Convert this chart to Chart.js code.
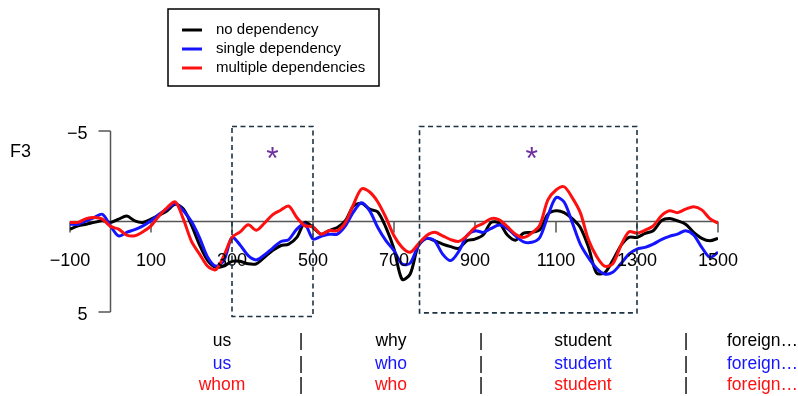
<!DOCTYPE html>
<html lang="en">
<head>
    <meta charset="UTF-8">
    <title>F3 ERP</title>
    <script src="https://cdn.jsdelivr.net/npm/chart.js"></script>
    <style>
        body { margin: 0; background: #fff; }
        #wrap { width: 798px; height: 396px; }
    </style>
</head>
<body>
    <div id="wrap"><canvas id="erpChart" width="798" height="396"></canvas></div>

    <script>
        // time points (ms)
        const times = [-100, -80, -60, -40, -20, 0, 20, 40, 60, 80, 100, 120, 140, 160, 180, 200,
            220, 240, 260, 280, 300, 320, 340, 360, 380, 400, 420, 440, 460, 480, 500, 520, 540,
            560, 580, 600, 620, 640, 660, 680, 700, 720, 740, 760, 780, 800, 820, 840, 860, 880,
            900, 920, 940, 960, 980, 1000, 1020, 1040, 1060, 1080, 1100, 1120, 1140, 1160, 1180,
            1200, 1220, 1240, 1260, 1280, 1300, 1320, 1340, 1360, 1380, 1400, 1420, 1440, 1460,
            1480, 1500];

        // amplitude (µV), negative up
        const noDep = [0.42, 0.24, 0.15, 0.05, -0.04, 0.05, -0.13, -0.3, -0.04, 0.05, -0.13, -0.35,
            -0.6, -0.95, -0.7, 0.2, 1.3, 2.16, 2.53, 2.47, 2.2, 2.2, 2.34, 2.34, 1.98, 1.61, 1.34,
            1.25, 0.88, 0.05, 0.33, 0.7, 0.5, 0.33, -0.04, -0.86, -1.0, -0.68, -0.53, 0.33, 1.52,
            3.2, 2.9, 1.34, 0.93, 1.06, 1.25, 1.39, 1.48, 1.06, 0.97, 0.75, 0.05, 0.09, 0.75, 1.03,
            0.64, 0.6, 0.46, -0.4, -0.59, -0.49, -0.16, 0.33, 1.4, 2.84, 2.84, 2.16, 1.34, 0.88,
            0.88, 0.66, 0.51, -0.04, -0.16, -0.04, 0.15, 0.6, 0.93, 1.06, 0.93];
        const singleDep = [0.15, 0.15, -0.04, -0.22, -0.4, 0.24, 0.8, 0.6, 0.45, 0.24, -0.04, -0.4,
            -0.7, -1.0, -0.6, 0.0, 0.9, 1.98, 2.47, 2.16, 0.88, 1.3, 1.89, 2.12, 1.85, 1.48, 1.12,
            1.0, 0.42, 0.15, 0.97, 0.82, 0.7, 0.7, 0.24, -0.53, -1.04, -0.59, 0.33, 1.06, 1.61,
            2.35, 2.3, 1.34, 0.93, 1.06, 1.8, 2.16, 1.65, 0.79, 0.51, 0.6, 0.38, 0.2, 0.38, 0.79,
            1.12, 1.15, 0.88, -0.31, -1.32, -1.08, 0.05, 1.25, 2.0, 2.58, 2.9, 2.8, 2.34, 1.8,
            1.52, 1.43, 1.25, 1.0, 0.82, 0.7, 0.51, 0.75, 1.43, 1.98, 1.7];
        const multiDep = [0.05, 0.05, -0.16, -0.22, -0.13, 0.27, 0.42, 0.75, 0.79, 0.57, 0.24, -0.31,
            -0.77, -1.08, -0.13, 1.1, 1.8, 2.47, 2.66, 1.89, 0.88, 0.57, 0.18, 0.48, 0.09, -0.37,
            -0.62, -0.85, -0.22, 0.24, 0.29, 0.7, 0.5, 0.51, 0.05, -0.95, -1.8, -1.63, -1.08, -0.22,
            0.79, 1.43, 1.7, 1.25, 0.79, 0.6, 0.79, 1.0, 1.1, 0.79, 0.33, 0.11, -0.16, -0.09, 0.29,
            0.7, 0.88, 0.64, 0.2, -1.19, -1.74, -1.92, -1.32, -0.49, 1.0, 1.92, 2.47, 2.34, 1.34,
            0.57, 0.64, 0.48, 0.24, -0.31, -0.59, -0.49, -0.68, -0.82, -0.64, -0.16, 0.09];

        const seriesNames = ['no dependency', 'single dependency', 'multiple dependencies'];
        const seriesColors = ['#000000', '#1414ff', '#ff1010'];

        const xTicks = [-100, 100, 300, 500, 700, 900, 1100, 1300, 1500];
        const yTicks = [-5, 5];
        // significant windows: [start ms, end ms, top µV, bottom µV]
        const windows = [[300, 500, -5.25, 5.25], [763, 1300, -5.25, 5.05]];
        const starTimes = [400, 1040];
        const starLevel = -3.9;

        const wordRows = [
            ['us', 'why', 'student', 'foreign…'],
            ['us', 'who', 'student', 'foreign…'],
            ['whom', 'who', 'student', 'foreign…']
        ];

        const FONT = '"Liberation Sans", Arial, Helvetica, sans-serif';

        const toPoints = vals => times.map((t, i) => ({ x: t, y: vals[i] }));

        const overlay = {
            id: 'overlay',
            beforeDatasetsDraw(chart) {
                const { ctx, scales: { x, y } } = chart;
                const y0 = y.getPixelForValue(0);
                const x0 = x.getPixelForValue(0);
                ctx.save();
                ctx.strokeStyle = '#555';
                ctx.lineWidth = 1.5;
                // zero line
                ctx.beginPath();
                ctx.moveTo(x.getPixelForValue(-100), y0);
                ctx.lineTo(x.getPixelForValue(1500), y0);
                ctx.stroke();
                // x ticks
                ctx.fillStyle = '#000';
                ctx.font = '18px ' + FONT;
                ctx.textBaseline = 'middle';
                xTicks.forEach(t => {
                    const px = x.getPixelForValue(t);
                    ctx.beginPath();
                    ctx.moveTo(px, y0);
                    ctx.lineTo(px, y0 + 11);
                    ctx.stroke();
                });
                // y axis
                ctx.beginPath();
                ctx.moveTo(x0, y.getPixelForValue(-5));
                ctx.lineTo(x0, y.getPixelForValue(5));
                ctx.stroke();
                ctx.textAlign = 'right';
                yTicks.forEach(v => {
                    const py = y.getPixelForValue(v);
                    ctx.beginPath();
                    ctx.moveTo(x0 - 12, py);
                    ctx.lineTo(x0, py);
                    ctx.stroke();
                    ctx.fillText(v < 0 ? '\u2212' + Math.abs(v) : String(v), x0 - 23, py + 3);
                });
                ctx.textAlign = 'left';
                ctx.fillText('F3', 10, 152);
                ctx.restore();
            },
            afterDatasetsDraw(chart) {
                const { ctx, scales: { x, y } } = chart;
                ctx.save();
                // x tick labels over the curves
                ctx.fillStyle = '#000';
                ctx.font = '18px ' + FONT;
                ctx.textAlign = 'center';
                ctx.textBaseline = 'middle';
                const y0 = y.getPixelForValue(0);
                xTicks.forEach(t => {
                    const lbl = t < 0 ? '\u2212' + Math.abs(t) : String(t);
                    ctx.fillText(lbl, x.getPixelForValue(t), y0 + 40);
                });
                // dashed windows
                ctx.strokeStyle = '#1d3344';
                ctx.lineWidth = 1.6;
                ctx.setLineDash([5, 3.5]);
                windows.forEach(([a, b, top, bot]) => {
                    const l = x.getPixelForValue(a), r = x.getPixelForValue(b);
                    const t = y.getPixelForValue(top), bm = y.getPixelForValue(bot);
                    ctx.strokeRect(l, t, r - l, bm - t);
                });
                ctx.setLineDash([]);
                // stars
                ctx.fillStyle = '#7030a0';
                ctx.font = '32px ' + FONT;
                ctx.textBaseline = 'alphabetic';
                starTimes.forEach(t => {
                    ctx.fillText('*', x.getPixelForValue(t), y.getPixelForValue(starLevel) + 18);
                });
                ctx.restore();
            },
            afterDraw(chart) {
                const { ctx } = chart;
                ctx.save();
                // legend
                ctx.strokeStyle = '#000';
                ctx.lineWidth = 1.5;
                ctx.strokeRect(168, 9, 211, 77);
                ctx.font = '15px ' + FONT;
                ctx.textBaseline = 'middle';
                ctx.textAlign = 'left';
                seriesNames.forEach((name, i) => {
                    const ly = 30 + i * 19;
                    ctx.strokeStyle = seriesColors[i];
                    ctx.lineWidth = 3;
                    ctx.beginPath();
                    ctx.moveTo(182, ly);
                    ctx.lineTo(202, ly);
                    ctx.stroke();
                    ctx.fillStyle = '#000';
                    ctx.fillText(name, 216, ly);
                });
                // word rows under the plot
                const centers = [222, 391, 583];
                const bars = [301, 481, 686];
                const rowY = [341, 364, 385];
                ctx.font = '17.5px ' + FONT;
                wordRows.forEach((row, r) => {
                    const ry = rowY[r];
                    ctx.fillStyle = seriesColors[r];
                    ctx.textAlign = 'center';
                    centers.forEach((cx, k) => ctx.fillText(row[k], cx, ry));
                    ctx.textAlign = 'left';
                    ctx.fillText(row[3], 727, ry);
                    ctx.fillStyle = '#000';
                    ctx.textAlign = 'center';
                    bars.forEach(bx => ctx.fillText('|', bx, ry));
                });
                ctx.restore();
            }
        };

        new Chart(document.getElementById('erpChart'), {
            type: 'line',
            data: {
                datasets: [
                    { label: seriesNames[0], data: toPoints(noDep), borderColor: seriesColors[0], order: 3 },
                    { label: seriesNames[1], data: toPoints(singleDep), borderColor: seriesColors[1], order: 2 },
                    { label: seriesNames[2], data: toPoints(multiDep), borderColor: seriesColors[2], order: 1 }
                ]
            },
            options: {
                responsive: false,
                animation: false,
                layout: { padding: { left: 70, right: 80, top: 131, bottom: 84 } },
                elements: {
                    line: { borderWidth: 3, tension: 0.3, fill: false },
                    point: { radius: 0 }
                },
                scales: {
                    x: { type: 'linear', min: -100, max: 1500, display: false },
                    y: { min: -5, max: 5, reverse: true, display: false }
                },
                plugins: { legend: { display: false }, tooltip: { enabled: false } }
            },
            plugins: [overlay]
        });
    </script>
</body>
</html>
